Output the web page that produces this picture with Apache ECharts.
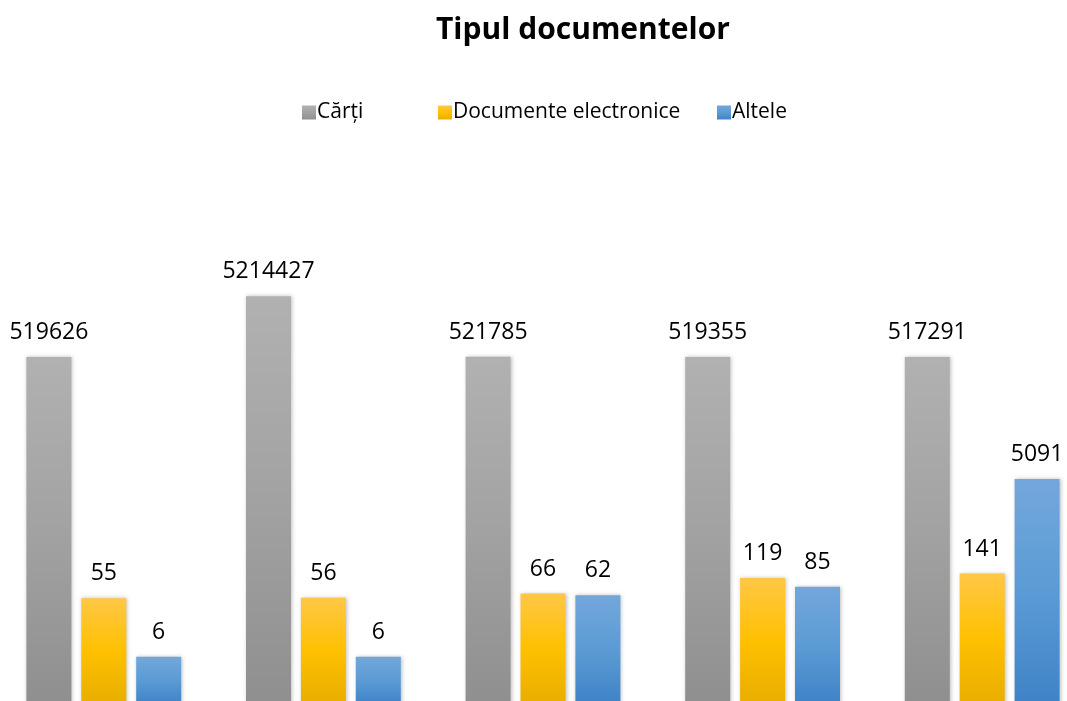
<!DOCTYPE html>
<html lang="ro">
<head>
    <meta charset="UTF-8">
    <script src="https://cdn.jsdelivr.net/npm/echarts@6/dist/echarts.min.js"></script>
    <title>Tipul documentelor</title>
    <style>
        html,body{margin:0;padding:0;background:#fff;overflow:hidden;width:1067px;height:701px;position:relative;}
        #main{position:absolute;left:-6px;top:0;}
    </style>
</head>
<body>
    <div id="main" style="width: 1098px; height: 705px;"></div>
    <script>
        // date
        var categories = ['2015', '2016', '2017', '2018', '2019'];
        var carti = [519626, 5214427, 521785, 519355, 517291];
        var docElectronice = [55, 56, 66, 119, 141];
        var altele = [6, 6, 62, 85, 5091];

        function grad(top, mid, bottom) {
            return new echarts.graphic.LinearGradient(0, 0, 0, 1, [
                {offset: 0, color: top},
                {offset: 0.5, color: mid},
                {offset: 1, color: bottom}
            ]);
        }

        var labelStyle = {
            show: true,
            position: 'top',
            distance: 13,
            color: '#000',
            fontSize: 23,
            fontFamily: 'Open Sans'
        };

        function makeSeries(name, data, color) {
            return {
                name: name,
                type: 'bar',
                data: data,
                barWidth: 45,
                barGap: '22%',
                label: labelStyle,
                itemStyle: {
                    color: color,
                    shadowColor: 'rgba(0,0,0,0.25)',
                    shadowBlur: 4,
                    shadowOffsetX: 1
                }
            };
        }

        // legenda: fiecare element pozitionat separat
        function makeLegend(name, left) {
            return {
                data: [name],
                top: 97,
                left: left,
                itemWidth: 14,
                itemHeight: 14,
                icon: 'rect',
                textStyle: {fontSize: 21, color: '#000', fontFamily: 'Open Sans', padding: [0, 0, 0, -4]}
            };
        }

        var myChart = echarts.init(document.getElementById('main'));
        var option = {
            animation: false,
            title: {
                text: 'Tipul documentelor',
                left: 437,
                top: 10,
                textStyle: {
                    fontSize: 30,
                    fontWeight: 'bold',
                    color: '#000',
                    fontFamily: 'Open Sans'
                }
            },
            legend: [
                makeLegend('Cărți', 303),
                makeLegend('Documente electronice', 439),
                makeLegend('Altele', 718)
            ],
            grid: {
                left: 0,
                right: 0,
                top: 279,
                bottom: 1,
                containLabel: false
            },
            xAxis: {
                type: 'category',
                data: categories,
                axisLine: {show: false},
                axisTick: {show: false},
                axisLabel: {show: false}
            },
            yAxis: {
                type: 'log',
                logBase: 10,
                min: 1,
                max: 10000000,
                show: false,
                splitLine: {show: false}
            },
            series: [
                makeSeries('Cărți', carti, grad('#b1b1b1', '#a2a2a2', '#8f8f8f')),
                makeSeries('Documente electronice', docElectronice, grad('#ffc746', '#ffc000', '#e8ae00')),
                makeSeries('Altele', altele, grad('#73a7dc', '#5b9bd5', '#3f83c7'))
            ]
        };
        myChart.setOption(option);
    </script>
</body>
</html>
